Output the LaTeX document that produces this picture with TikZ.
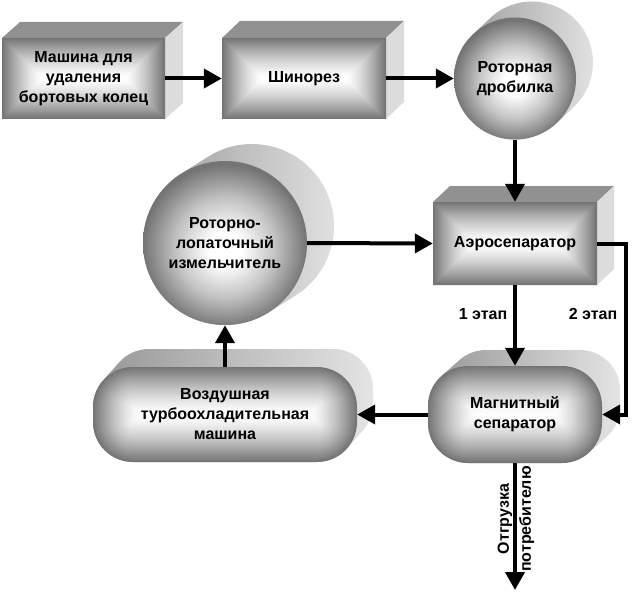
\documentclass[tikz,border=0pt]{standalone}
\usepackage{fontspec}
\setmainfont{Liberation Sans}
\usetikzlibrary{arrows.meta,calc}

\definecolor{edgegray}{RGB}{116,116,116}
\definecolor{midgray}{RGB}{196,196,196}
\definecolor{topgray}{RGB}{145,145,145}
\definecolor{sidegray}{RGB}{220,220,220}
\definecolor{extL}{RGB}{150,150,150}
\definecolor{extR}{RGB}{228,228,228}

\pgfdeclareradialshading{discshade}{\pgfpoint{0bp}{-2bp}}{%
  color(0bp)=(white); color(5bp)=(white); color(15bp)=(midgray);
  color(25bp)=(edgegray); color(50bp)=(edgegray)}

% nested gradient fill with constant inset (rectangle or rounded rectangle)
\newcommand{\gradfill}[5]{%
  \pgfmathsetmacro\hmin{min((#3)-(#1),(#4)-(#2))/2}%
  \foreach \i in {0,...,44}{%
    \pgfmathsetmacro\f{\i/45}%
    \pgfmathsetmacro\ins{\hmin*\f}%
    \pgfmathsetmacro\rr{max((#5)-\ins,0.01)}%
    \pgfmathsetmacro\pc{100*(1-(1-\f)^1.4)}%
    \fill[white!\pc!edgegray, rounded corners=\rr pt] ({#1+\ins},{#2+\ins}) rectangle ({#3-\ins},{#4-\ins});
  }}

% box with top and right faces
\newcommand{\solidbox}[6]{%
  \fill[topgray] (#1,#2) -- ({#1+#5},{#2+#6}) -- ({#3+#5},{#2+#6}) -- (#3,#2) -- cycle;
  \fill[sidegray] (#3,#2) -- ({#3+#5},{#2+#6}) -- ({#3+#5},{#4+#6}) -- (#3,#4) -- cycle;
  \gradfill{#1}{#2}{#3}{#4}{0}}

% cylinder-like disc: cx, cy, r, dx, dy
\newcommand{\disc}[5]{%
  \pgfmathsetmacro\ang{atan2(#4,-(#5))}%
  \shade[left color=extL, right color=extR]
    ($(#1,#2)+(\ang:#3)$) -- ($({#1+#4},{#2+#5})+(\ang:#3)$)
    arc[start angle=\ang, end angle=\ang-180, radius=#3]
    -- ($(#1,#2)+(\ang+180:#3)$)
    arc[start angle=\ang+180, end angle=\ang, radius=#3] -- cycle;
  \shade[shading=discshade] (#1,#2) circle[radius=#3];}

% pill: x1,y1,x2,y2,R,dx,dy
\newcommand{\pill}[7]{%
  \pgfmathsetmacro\ang{atan2(#6,-(#7))}%
  \shade[left color=extL, right color=extR]
    ($({#1+#5},{#2+#5})+(\ang+180:#5)$)
    -- ($({#1+#5+#6},{#2+#5+#7})+(\ang+180:#5)$)
    arc[start angle=\ang+180, end angle=270, radius=#5]
    -- ({#3-#5+#6},{#2+#7})
    arc[start angle=270, end angle=360, radius=#5]
    -- ({#3+#6},{#4-#5+#7})
    arc[start angle=0, end angle=\ang, radius=#5]
    -- ($({#3-#5},{#4-#5})+(\ang:#5)$)
    arc[start angle=\ang, end angle=90, radius=#5]
    -- ({#1+#5},#4)
    arc[start angle=90, end angle=180, radius=#5]
    -- (#1,{#2+#5})
    arc[start angle=180, end angle=\ang+180, radius=#5] -- cycle;
  \gradfill{#1}{#2}{#3}{#4}{#5}}

\tikzset{
  lbl/.style={font=\bfseries\fontsize{16}{20}\selectfont, align=center, inner sep=0pt},
  conn/.style={line width=4pt, -{Triangle[length=18pt,width=19pt]}}
}

\begin{document}
\begin{tikzpicture}[x=1pt,y=-1pt]
\fill[white] (0,0) rectangle (644,596);
\useasboundingbox (0,0) rectangle (644,596);

% shapes
\solidbox{2}{38}{165}{119}{18}{-16}
\solidbox{222}{38}{386}{119}{18}{-17}
\disc{515}{78.5}{61}{17}{-16}
\solidbox{433}{202}{597}{285}{17}{-16}
\disc{225}{243}{82}{27}{-17}
\pill{93}{367}{357}{462}{40}{16}{-18}
\pill{428}{366}{602}{463}{40}{18}{-16}

% nodes
\node[lbl, minimum width=163pt, minimum height=81pt] (A) at (83.5,78.5) {Машина для\\удаления\\бортовых колец};
\node[lbl, minimum width=164pt, minimum height=81pt] (B) at (304,78.5) {Шинорез};
\node[lbl, circle, minimum size=122pt] (C) at (515,78.5) {Роторная\\дробилка};
\node[lbl, minimum width=164pt, minimum height=83pt] (D) at (515,243.5) {Аэросепаратор};
\node[lbl, circle, minimum size=164pt] (E) at (225,243) {Роторно-\\лопаточный\\измельчитель};
\node[lbl, minimum width=264pt, minimum height=95pt] (F) at (225,414.5) {Воздушная\\турбоохладительная\\машина};
\node[lbl, minimum width=174pt, minimum height=97pt] (G) at (515,414.5) {Магнитный\\сепаратор};
\node[lbl] (L1) at (483,314) {1 этап};
\node[lbl] (L2) at (593,314) {2 этап};
\node[lbl, rotate=90, font=\bfseries\fontsize{16}{22}\selectfont] (S) at (516,519) {Отгрузка\\потребителю};
\coordinate (out) at (515,590);

% connectors
\draw[conn] (A.east) -- (B.west);
\draw[conn] (B.east) -- (C.west);
\draw[conn] (C.south) -- (D.north);
\draw[conn] (E.east) -- (D.west);
\draw[conn] (D.south) -- (G.north);
\draw[conn] (D.east) -- ++(29,0) |- (G.east);
\draw[conn] (G.west) -- (F.east);
\draw[conn] (F.north) -- (E.south);
\draw[conn] (G.south) -- (out);
\end{tikzpicture}
\end{document}
